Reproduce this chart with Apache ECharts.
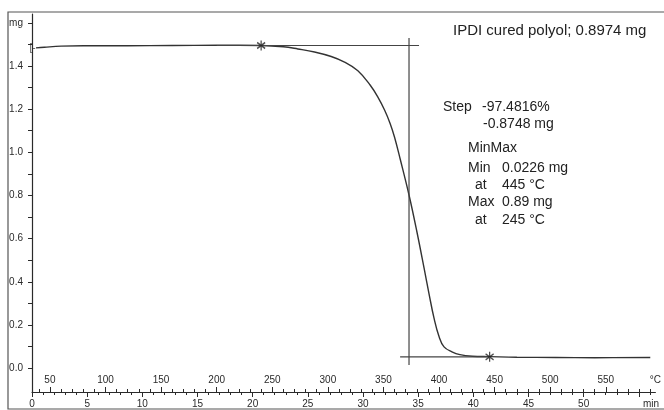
<!DOCTYPE html>
<html>
<head>
<meta charset="utf-8">
<script src="https://cdn.jsdelivr.net/npm/echarts@6/dist/echarts.min.js"></script>
<style>
  html, body { margin: 0; padding: 0; background: #fff; }
  #chart { width: 664px; height: 410px; }
</style>
</head>
<body>
<div id="chart"></div>
<script>
// TGA curve: temperature (degC) vs mass (mg)
var curveTemp = [37.5, 45, 60, 80, 120, 160, 200, 240, 260, 273, 288, 303, 315, 327, 338, 345, 351, 356, 360, 365, 373, 380, 386.6, 391, 395.5, 400, 404.5, 411.6, 418.8, 430, 445.5, 470, 505, 540, 590];
var curveMass = [1.484, 1.487, 1.492, 1.494, 1.494, 1.495, 1.496, 1.495, 1.489, 1.479, 1.465, 1.444, 1.418, 1.378, 1.312, 1.256, 1.196, 1.134, 1.070, 0.970, 0.802, 0.634, 0.462, 0.344, 0.231, 0.146, 0.098, 0.075, 0.062, 0.055, 0.053, 0.050, 0.049, 0.048, 0.049];

// step evaluation lines
var stepTopTemp = [200, 382];
var stepTopMass = [1.495, 1.495];
var stepBottomTemp = [365, 445];
var stepBottomMass = [0.052, 0.052];
var stepVertTemp = [373, 373];
var stepVertMass = [0.014, 1.530];
var limitTemp = [240, 445.5];
var limitMass = [1.495, 0.052];

// axes
var tempMin = 33.9, tempMax = 594.6;
var timeMin = 0, timeMax = 56.5;
var massMin = -0.111, massMax = 1.641;
var tempLabels = [50, 100, 150, 200, 250, 300, 350, 400, 450, 500, 550];
var tempMinorTicks = [40, 50, 60, 70, 80, 90, 100, 110, 120, 130, 140, 150, 160, 170, 180, 190, 200, 210, 220, 230, 240, 250, 260, 270, 280, 290, 300, 310, 320, 330, 340, 350, 360, 370, 380, 390, 400, 410, 420, 430, 440, 450, 460, 470, 480, 490, 500, 510, 520, 530, 540, 550, 560, 570, 580, 590];
var timeLabels = [0, 5, 10, 15, 20, 25, 30, 35, 40, 45, 50];
var timeMajorTicks = [0, 5, 10, 15, 20, 25, 30, 35, 40, 45, 50, 55];
var timeMinorTicks = [0, 1, 2, 3, 4, 5, 6, 7, 8, 9, 10, 11, 12, 13, 14, 15, 16, 17, 18, 19, 20, 21, 22, 23, 24, 25, 26, 27, 28, 29, 30, 31, 32, 33, 34, 35, 36, 37, 38, 39, 40, 41, 42, 43, 44, 45, 46, 47, 48, 49, 50, 51, 52, 53, 54, 55, 56];
var massLabels = [0, 0.2, 0.4, 0.6, 0.8, 1.0, 1.2, 1.4, 1.6];
var massTicks = [0, 0.1, 0.2, 0.3, 0.4, 0.5, 0.6, 0.7, 0.8, 0.9, 1.0, 1.1, 1.2, 1.3, 1.4, 1.5, 1.6];

var ink = '#2a2a2a';
var font = 'Liberation Sans, Arial, sans-serif';

function zip(xs, ys) {
  var res = [];
  for (var i = 0; i < xs.length; i++) res.push([xs[i], ys[i]]);
  return res;
}

function xAx(min, max, o) {
  var a = {
    type: 'value', gridIndex: 0, position: 'bottom', min: min, max: max,
    splitLine: { show: false },
    axisLine: { show: false, onZero: false, lineStyle: { color: ink, width: 1 } },
    axisTick: { show: false },
    axisLabel: { show: false }
  };
  for (var k in o) a[k] = o[k];
  return a;
}

var lineStyle = { color: '#333', width: 1.4 };
function stepLine(xs, ys) {
  return {
    type: 'line', xAxisIndex: 0, yAxisIndex: 0, data: zip(xs, ys),
    symbol: 'none', lineStyle: { color: '#444', width: 1.2 }, silent: true
  };
}
function note(x, y, s) {
  return { type: 'text', x: x, y: y, style: { text: s, fontSize: 14, fontFamily: font, fill: '#222', verticalAlign: 'middle' } };
}

var myChart = echarts.init(document.getElementById('chart'));

var option = {
  backgroundColor: '#fff',
  animation: false,
  textStyle: { fontFamily: font },
  title: {
    text: 'IPDI cured polyol; 0.8974 mg',
    left: 448, top: 18,
    textStyle: { fontSize: 15, fontWeight: 'normal', color: '#222', fontFamily: font }
  },
  grid: { left: 32, right: 4, top: 14, bottom: 18 },
  xAxis: [
    // temperature, main line + long ticks + labels above the line
    xAx(tempMin, tempMax, {
      axisLine: { show: true, onZero: false, lineStyle: { color: ink, width: 1.2 } },
      axisTick: { show: true, inside: true, length: 5, customValues: tempLabels, lineStyle: { color: ink } },
      axisLabel: {
        show: true, inside: true, margin: 7, fontSize: 10, color: ink, fontFamily: font,
        customValues: tempLabels.concat([tempMax]), showMaxLabel: true,
        formatter: function (v) { return v > 590 ? '°C' : String(v); }
      }
    }),
    // temperature, short ticks
    xAx(tempMin, tempMax, {
      axisTick: { show: true, inside: true, length: 3, customValues: tempMinorTicks, lineStyle: { color: ink } }
    }),
    // time, long ticks + labels below the line
    xAx(timeMin, timeMax, {
      axisTick: { show: true, inside: false, length: 5, customValues: timeMajorTicks, lineStyle: { color: ink } },
      axisLabel: {
        show: true, margin: 7, fontSize: 10, color: ink, fontFamily: font,
        customValues: timeLabels.concat([timeMax - 0.4]), showMaxLabel: true,
        formatter: function (v) { return v > 55 ? 'min' : String(v); }
      }
    }),
    // time, short ticks
    xAx(timeMin, timeMax, {
      axisTick: { show: true, inside: false, length: 3, customValues: timeMinorTicks, lineStyle: { color: ink } }
    })
  ],
  yAxis: {
    type: 'value', min: massMin, max: massMax,
    splitLine: { show: false },
    axisLine: { show: true, onZero: false, lineStyle: { color: ink, width: 1.2 } },
    axisTick: { show: true, length: 4, customValues: massTicks, lineStyle: { color: ink } },
    axisLabel: {
      margin: 9, fontSize: 10, color: ink, fontFamily: font,
      customValues: massLabels,
      formatter: function (v) { return v > 1.55 ? 'mg' : v.toFixed(1); }
    }
  },
  graphic: [
    { type: 'rect', shape: { x: 8, y: 12, width: 662, height: 397 }, style: { fill: 'none', stroke: '#555', lineWidth: 1.2 }, silent: true },
    note(443, 107, 'Step'),
    note(482, 107, '-97.4816%'),
    note(483, 124, '-0.8748 mg'),
    note(468, 148, 'MinMax'),
    note(468, 168, 'Min'),
    note(502, 168, '0.0226 mg'),
    note(475, 185, 'at'),
    note(502, 185, '445 °C'),
    note(468, 202, 'Max'),
    note(502, 202, '0.89 mg'),
    note(475, 220, 'at'),
    note(502, 220, '245 °C')
  ],
  series: [
    {
      type: 'line', xAxisIndex: 0, yAxisIndex: 0,
      data: zip(curveTemp, curveMass),
      symbol: 'none', smooth: 0.4,
      lineStyle: lineStyle
    },
    stepLine(stepTopTemp, stepTopMass),
    stepLine(stepBottomTemp, stepBottomMass),
    stepLine(stepVertTemp, stepVertMass),
    { // limit markers
      type: 'scatter', xAxisIndex: 0, yAxisIndex: 0,
      data: zip(limitTemp, limitMass),
      symbol: 'path://M4,0L4,10M0,2L8,8M8,2L0,8',
      symbolSize: [8, 10],
      itemStyle: { color: 'none', borderColor: '#222', borderWidth: 1.4 },
      z: 5
    },
    { // start bracket
      type: 'scatter', xAxisIndex: 0, yAxisIndex: 0,
      data: [[curveTemp[0], curveMass[0]]],
      symbol: 'circle', symbolSize: 1,
      itemStyle: { color: 'rgba(0,0,0,0)' },
      label: { show: true, position: 'left', distance: 0, formatter: '[-', fontSize: 10, color: ink, fontFamily: font }
    }
  ]
};

if (option && typeof option === "object") {
  myChart.setOption(option, true);
}

window.onresize = function() {
  myChart.resize();
}
</script>
</body>
</html>
